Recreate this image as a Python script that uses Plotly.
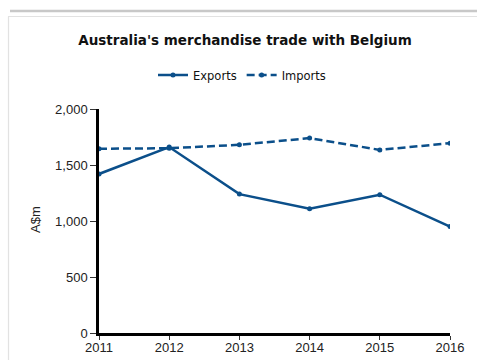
import plotly.graph_objects as go

# Australia's merchandise trade with Belgium, A$ million
years = [2011, 2012, 2013, 2014, 2015, 2016]
exports = [1420, 1660, 1240, 1110, 1235, 950]
imports = [1645, 1650, 1680, 1740, 1635, 1695]
y_ticks = [0, 500, 1000, 1500, 2000]
y_tick_labels = ["0", "500", "1,000", "1,500", "2,000"]

BLUE = "#0b4f8a"
W, H = 479, 363
# plot box edges in page pixels
BOX_L, BOX_R, BOX_T, BOX_B = 99, 450, 109, 333


def px_x(x):
    return x / W


def px_y(y):
    return 1 - y / H


fig = go.Figure()
fig.add_trace(go.Scatter(
    x=years, y=exports, name="Exports", mode="lines+markers",
    line=dict(color=BLUE, width=2.5), marker=dict(size=5, color=BLUE),
))
fig.add_trace(go.Scatter(
    x=years, y=imports, name="Imports", mode="lines+markers",
    line=dict(color=BLUE, width=2.5, dash="8px,4px"), marker=dict(size=5, color=BLUE),
))

# panel frame: heavy top rule, then a thin rule turning down the left edge
shapes = [
    dict(type="line", xref="paper", yref="paper", layer="below",
         x0=px_x(10), x1=px_x(477), y0=px_y(11), y1=px_y(11),
         line=dict(color="#c8c8c8", width=2.5)),
    dict(type="line", xref="paper", yref="paper", layer="below",
         x0=px_x(8), x1=px_x(477), y0=px_y(16.5), y1=px_y(16.5),
         line=dict(color="#e2e2e2", width=1.2)),
    dict(type="line", xref="paper", yref="paper", layer="below",
         x0=px_x(8.5), x1=px_x(8.5), y0=px_y(16.5), y1=px_y(360),
         line=dict(color="#e2e2e2", width=1.2)),
]

fig.update_layout(
    width=W, height=H,
    margin=dict(l=0, r=0, t=0, b=0, autoexpand=False),
    paper_bgcolor="white", plot_bgcolor="rgba(0,0,0,0)",
    font=dict(family="Liberation Sans, Arial, sans-serif", size=12, color="#222"),
    title=dict(
        text="<b>Australia's merchandise trade with Belgium</b>",
        xref="container", x=245 / W, xanchor="center",
        yref="container", y=px_y(40), yanchor="middle",
        font=dict(family="DejaVu Sans, Verdana, sans-serif", size=13.5, color="#111"),
    ),
    legend=dict(
        orientation="h", x=px_x(242), xanchor="center", y=px_y(75), yanchor="middle",
        font=dict(family="DejaVu Sans, Verdana, sans-serif", size=11.5, color="#111"),
        itemwidth=30, bgcolor="rgba(0,0,0,0)",
    ),
    showlegend=True,
    shapes=shapes,
    annotations=[dict(
        text="A$m", xref="paper", yref="paper", x=px_x(35), y=px_y(220),
        showarrow=False, textangle=-90, xanchor="center", yanchor="middle",
        font=dict(family="Liberation Sans, Arial, sans-serif", size=13, color="#222"),
    )],
)
fig.update_xaxes(
    domain=[px_x(BOX_L), px_x(BOX_R)],
    range=[2011, 2016], tickvals=years, ticktext=[str(y) for y in years],
    showgrid=False, zeroline=False, showline=True, linecolor="black", linewidth=2.5,
    ticks="outside", ticklen=1, tickwidth=1, tickcolor="#333",
    minor=dict(tickvals=years, ticks="outside", ticklen=4, tickwidth=1, tickcolor="#333"),
    tickfont=dict(size=13), automargin=False,
)
fig.update_yaxes(
    domain=[px_y(BOX_B), px_y(BOX_T)],
    range=[0, 2000], tickvals=y_ticks, ticktext=y_tick_labels,
    showgrid=False, zeroline=False, showline=True, linecolor="black", linewidth=2.5,
    ticks="outside", ticklen=6, tickwidth=1, tickcolor="#333",
    tickfont=dict(size=13), automargin=False,
)

# keep the page free of body margin and scrollbars
page_css = (
    "document.body.style.margin='0';"
    "document.documentElement.style.overflow='hidden';"
    "document.body.style.overflow='hidden';"
)
fig.write_html("out.html", config=dict(displayModeBar=False), post_script=page_css)
